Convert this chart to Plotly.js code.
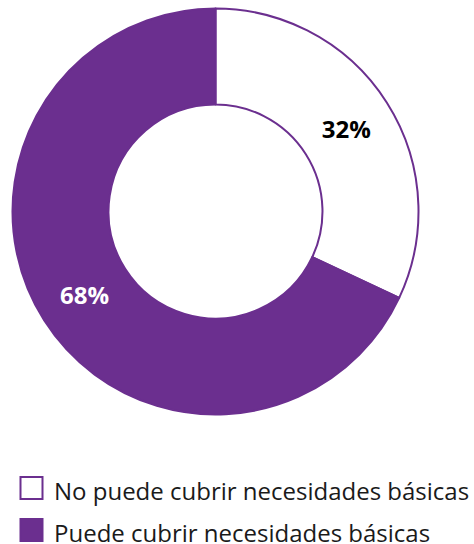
<!DOCTYPE html>
<html>
<head>
<meta charset="utf-8">
<script src="https://cdn.plot.ly/plotly-3.0.1.min.js"></script>
<style>html,body{margin:0;padding:0;background:#fff;}#chart{width:474px;height:544px;}</style>
</head>
<body>
<div id="chart"></div>
<script>
const categories = ["No puede cubrir necesidades básicas", "Puede cubrir necesidades básicas"];
const values = [32, 68];
const sliceColors = ["#ffffff", "#6b2f8f"];
const textColors = ["#000000", "#ffffff"];

const trace = {
  type: "pie",
  labels: categories.map(c => '<span style="font-size:24px">' + c + '</span>'),
  values: values,
  sort: false,
  direction: "clockwise",
  rotation: 0,
  hole: 0.527,
  marker: { colors: sliceColors, line: { color: "#6b2f8f", width: 2 } },
  textinfo: "percent",
  texttemplate: "%{percent:.0%}",
  textposition: "inside",
  insidetextorientation: "horizontal",
  textfont: { family: "Open Sans", size: 24, weight: "bold", color: textColors },
  domain: { x: [12.5/474, 418.5/474], y: [1 - 414.5/544, 1 - 8.5/544] },
  hoverinfo: "label+percent"
};

const layout = {
  width: 474, height: 544,
  margin: { l: 0, r: 0, t: 0, b: 0, pad: 0, autoexpand: false },
  paper_bgcolor: "#ffffff",
  font: { family: "Open Sans", color: "#1a1a1a" },
  showlegend: true,
  legend: {
    x: 9/474, xanchor: "left",
    y: 1 - 462/544, yanchor: "top",
    font: { family: "Open Sans", size: 30, color: "#1a1a1a" },
    itemwidth: 35,
    traceorder: "normal",
    bgcolor: "rgba(0,0,0,0)"
  }
};

Plotly.newPlot("chart", [trace], layout, { displayModeBar: false, staticPlot: true }).then(gd => {
  gd.querySelectorAll("path.legendpie").forEach(p => p.setAttribute("d", "M11,11H-11V-11H11Z"));
});
</script>
</body>
</html>
